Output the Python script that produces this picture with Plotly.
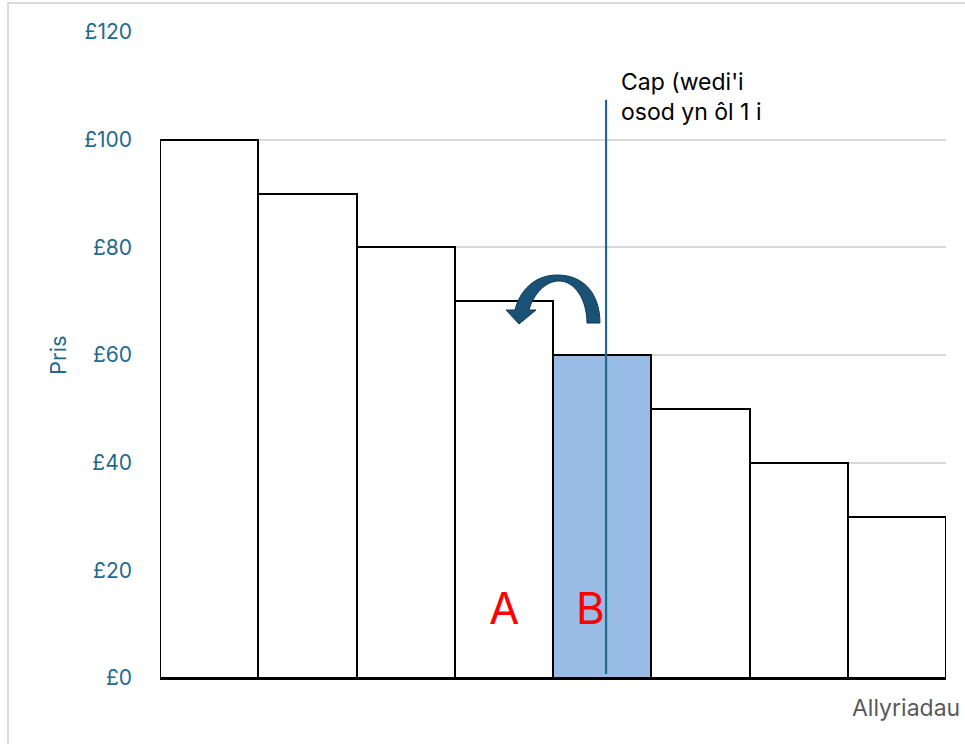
import plotly.graph_objects as go

# ---- data ----
units = [0, 1, 2, 3, 4, 5, 6, 7]
prices = [100, 90, 80, 70, 60, 50, 40, 30]
highlight = [False, False, False, False, True, False, False, False]
y_ticks = [0, 20, 40, 60, 80, 100, 120]
y_tick_labels = ["£0", "£20", "£40", "£60", "£80", "£100", "£120"]
cap_x = 4.04
cap_top = 107.4
label_a = (3.0, 13)
label_b = (3.88, 13)

W, H = 965, 744
L, R, T, B = 160, 19, 32, 66
FONT = "Inter, Open Sans, sans-serif"
TEAL = "#1f6a8d"

colors = ["#98bce5" if h else "white" for h in highlight]

fig = go.Figure()
fig.add_trace(go.Bar(
    x=units, y=prices, width=1,
    marker=dict(color=colors, line=dict(color="black", width=2)),
    hoverinfo="skip",
))

# cap line
fig.add_shape(type="line", xref="x", yref="y", x0=cap_x, x1=cap_x, y0=0.75, y1=cap_top,
              line=dict(color="#1f6a8d", width=2.2), layer="above")

# curved arrow (decorative) in data coordinates
arrow_path = (
    "M 3.978 65.94 "
    "C 3.978 71.15 3.826 74.86 3.541 74.86 "
    "C 3.317 74.86 3.164 72.07 3.113 68.36 "
    "L 3.022 68.36 L 3.154 65.76 L 3.327 68.36 L 3.256 68.36 "
    "C 3.296 71.15 3.419 73.75 3.561 73.75 "
    "C 3.724 73.75 3.846 70.22 3.846 65.94 Z"
)
fig.add_shape(type="path", xref="x", yref="y", path=arrow_path,
              fillcolor="#1a5276", line=dict(color="#0d3b56", width=1), layer="above")

# outer chart border
px2paper_x = lambda px: (px - L) / (W - L - R)
py2paper_y = lambda py: (H - B - py) / (H - T - B)
fig.add_shape(type="rect", xref="paper", yref="paper",
              x0=px2paper_x(8), x1=px2paper_x(1000), y0=py2paper_y(3), y1=py2paper_y(800),
              line=dict(color="#d9d9d9", width=2), fillcolor="rgba(0,0,0,0)", layer="below")

annotations = [
    dict(x=label_a[0], y=label_a[1], xref="x", yref="y", text="A", showarrow=False,
         font=dict(family=FONT, size=44, color="red")),
    dict(x=label_b[0], y=label_b[1], xref="x", yref="y", text="B", showarrow=False,
         font=dict(family=FONT, size=44, color="red")),
    dict(x=px2paper_x(619), y=py2paper_y(66), xref="paper", yref="paper",
         text="Cap (wedi'i<br>osod yn ôl 1 i", showarrow=False, align="left",
         xanchor="left", yanchor="top",
         font=dict(family=FONT, size=23, color="black")),
    dict(x=px2paper_x(962), y=py2paper_y(708), xref="paper", yref="paper",
         text="Allyriadau", showarrow=False, xanchor="right", yanchor="middle",
         font=dict(family=FONT, size=23, color="#595959")),
    dict(x=px2paper_x(58), y=py2paper_y(355), xref="paper", yref="paper",
         text="Pris", showarrow=False, textangle=-90, xanchor="center", yanchor="middle",
         font=dict(family=FONT, size=22, color=TEAL)),
]

fig.update_layout(
    width=W, height=H,
    margin=dict(l=L, r=R, t=T, b=B, pad=0),
    paper_bgcolor="white", plot_bgcolor="white",
    showlegend=False, bargap=0,
    annotations=annotations,
    font=dict(family=FONT),
)
fig.update_xaxes(range=[-0.5, 7.5], showticklabels=False, showgrid=False, zeroline=False,
                 showline=True, linecolor="black", linewidth=1.5, ticks="")
fig.update_yaxes(range=[0, 120], tickvals=y_ticks, ticktext=y_tick_labels,
                 showgrid=True, gridcolor="#d9d9d9", gridwidth=1.5, zeroline=False,
                 showline=False, ticks="", ticklabelstandoff=27,
                 tickfont=dict(family=FONT, size=21, color=TEAL))

fig.write_html("out.html", config={"displayModeBar": False},
               post_script="document.body.style.margin='0px';")
